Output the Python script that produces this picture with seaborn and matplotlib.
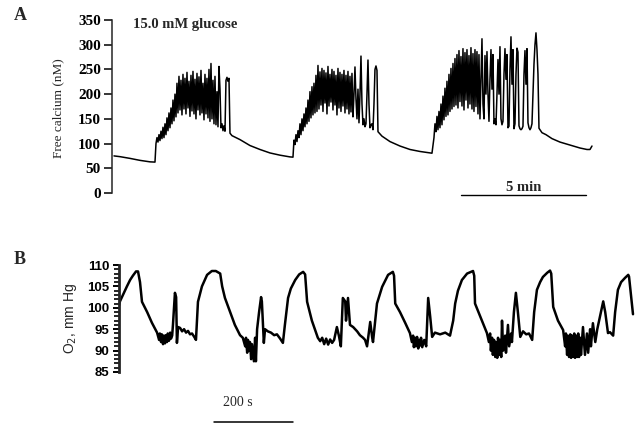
import numpy as np
import pandas as pd
import matplotlib
matplotlib.use("Agg")
import matplotlib.pyplot as plt
import seaborn as sns
from matplotlib.ticker import MultipleLocator

# ---- panel A: free calcium (nM) against time (min) ----
# slow parts as (time, value) points, bursts as samples every 0.04 min
sample_min = 0.04

base1_min = [0, 0.24, 0.64, 1.04, 1.44, 1.64]
base1_nM = [75, 73.5, 70, 66, 63, 62.5]
burst1_start = 1.68
burst1_nM = [100, 112, 103, 118, 106, 125, 110, 133, 112, 140,
             118, 152, 126, 162, 132, 172, 140, 188, 146, 200,
             154, 222, 162, 236, 168, 228, 158, 240, 170, 232,
             160, 244, 172, 226, 155, 238, 166, 246, 160, 230,
             150, 242, 168, 235, 158, 248, 162, 222, 148, 240,
             160, 232, 152, 250, 145, 262, 150, 228, 140, 236,
             138, 205, 134, 256, 210, 132, 140, 126, 136, 125,
             228, 234, 226, 232, 121]
decay1_min = [4.72, 4.88, 5.04, 5.44, 5.84, 6.24, 6.64, 7.04, 7.16]
decay1_nM = [116, 112, 108, 96, 88, 81, 76.5, 73, 72.5]

burst2_start = 7.20
burst2_nM = [107, 98, 118, 104, 126, 112, 140, 118, 150, 126,
             160, 134, 172, 140, 188, 145, 205, 152, 215, 158,
             222, 162, 238, 165, 258, 170, 245, 178, 252, 165,
             248, 182, 243, 160, 256, 176, 240, 184, 250, 168,
             246, 178, 238, 158, 252, 172, 244, 165, 240, 176,
             248, 162, 238, 170, 246, 160, 236, 164, 242, 154,
             200, 255, 190, 150, 210, 142, 200, 277, 180, 138,
             150, 134, 140, 200, 269, 180, 132, 138, 140, 128,
             180, 250, 257, 248, 124]
decay2_min = [10.72, 11.04, 11.44, 11.84, 12.24, 12.64, 12.72]
decay2_nM = [115, 104, 95, 88, 84, 81, 80.5]

burst3_start = 12.80
burst3_nM = [112, 140, 124, 155, 128, 165, 132, 180, 138, 196,
             148, 212, 155, 226, 158, 240, 165, 252, 170, 262,
             175, 272, 178, 280, 172, 288, 185, 276, 176, 292,
             168, 284, 188, 290, 172, 278, 180, 294, 170, 282,
             165, 290, 175, 286, 160, 280,
             150, 230, 312, 180, 150, 278, 200, 286, 200, 145,
             230, 290, 210, 280, 140, 150, 138, 200, 270, 200,
             296, 150, 138, 145, 240, 292, 230, 280, 132, 135,
             250, 316, 220, 290, 130, 140, 240, 293, 285, 136,
             130, 128, 130, 135, 240, 288, 220, 292, 142, 132,
             128, 132, 140, 200, 260, 300, 324, 290, 240, 131]
decay3_min = [17.12, 17.28, 17.52, 17.84, 18.24, 18.64, 18.92, 19.04, 19.12]
decay3_nM = [122, 118, 110, 103, 97, 91, 88, 88, 95]

calcium_ticks = [0, 50, 100, 150, 200, 250, 300, 350]

# ---- panel B: O2 (mm Hg) against time (s) ----
o2_sec = [0, 2.5, 10, 20, 28, 35, 43, 48, 53, 58,
          71, 83, 96, 101, 103, 106, 108, 111, 113, 116, 118, 121, 123, 126, 129, 131, 134,
          136, 141, 144, 146, 149, 154, 159, 164, 169, 174, 179, 184, 189, 194,
          199, 209, 222, 234, 244, 255, 260, 267, 280, 292, 305,
          312, 318, 320, 323, 325, 328, 330, 333, 335, 338, 340, 343, 345, 348,
          353, 358, 360, 365, 368, 375, 383, 391, 398, 406, 413,
          418, 426, 433, 444, 454, 464, 469, 474, 486, 501,
          507, 512, 517, 522, 527, 532, 537, 542,
          549, 554, 559, 564, 570, 572, 577, 582, 590, 600, 607, 615, 620, 625, 633, 638, 640,
          650, 663, 678, 690, 693, 696, 708, 721, 733,
          738, 741, 743, 746, 748, 751, 754, 756, 759, 761, 764, 769, 774,
          779, 784, 789, 796, 809, 822, 834, 842,
          847, 854, 864, 877, 892, 895, 897, 910, 927,
          932, 935, 937, 940, 942, 945, 948, 950, 953, 955, 958, 960, 963, 965, 968, 973, 975, 980, 983, 988, 990,
          995, 1000, 1005, 1011, 1018, 1026, 1033, 1041,
          1046, 1053, 1061, 1068, 1079, 1086, 1089, 1094, 1106, 1119,
          1124, 1126, 1129, 1131, 1134, 1137, 1139, 1142, 1144, 1147, 1149, 1152, 1154, 1157, 1159, 1162, 1164,
          1169, 1174, 1179, 1182, 1187, 1189, 1194, 1200, 1205, 1212, 1220, 1225, 1232, 1237, 1245,
          1250, 1257, 1265, 1275, 1283, 1285, 1295]
o2_mmHg = [100.5, 101.5, 103, 105, 106.5, 107.5, 108.5, 108.5, 106, 101.4,
           99, 96.5, 94.2, 92.5, 94, 92, 93.8, 91.5, 93.5, 91.7, 93.6, 92, 94, 92.3, 94.2, 92.8, 93.5,
           96, 103.5, 102.5, 91.8, 95.5, 95.3, 94.5, 95, 94.2, 94.6, 93.8, 94, 93.3, 92.5,
           101.4, 105, 107.7, 108.6, 108.6, 108, 105, 102.3, 99, 96, 93.6,
           93, 91, 93, 89.5, 92.5, 90, 92, 88, 91.5, 89, 87.5, 93, 87.5, 95,
           99, 102.5, 101.5, 91.8, 95, 94.5, 94.2, 93.6, 93.8, 92.8, 91.8,
           96, 102.3, 104.5, 106.5, 107.8, 108.4, 107.8, 101.4, 97, 93,
           92.2, 93, 91.5, 92.8, 91.4, 92.6, 91.8, 92.5,
           95.5, 93.5, 91, 102.3, 101.5, 97, 102.3, 96, 95.5, 94.5, 93.6, 93, 92.5, 91, 96.7, 93, 92,
           101, 104.9, 107.7, 108.4, 107.5, 101, 99, 96.5, 94.1,
           92, 93.5, 90.8, 93, 91, 93.2, 90.5, 92.5, 91.2, 93, 90.8, 92.5, 91,
           102.3, 98, 93.2, 94.2, 93.8, 94.2, 93.5, 97,
           101, 104, 106.5, 108, 108.6, 107.5, 101, 98, 94.1,
           92, 94, 90, 93, 89, 92.5, 88.5, 92, 88.3, 93, 89, 92.5, 88.5, 97, 90, 93.5, 89.5, 96, 91, 94, 92,
           99, 103.5, 99, 93.2, 94.5, 93.8, 94, 92.5,
           99, 104.2, 106, 107.2, 108.2, 108.7, 108, 100.2, 97, 94.8,
           91, 94, 89, 93.5, 88.5, 93.8, 88.3, 93.5, 88.5, 94, 88.3, 93.5, 88.5, 94, 88.5, 93, 89,
           95.5, 89, 94, 89.5, 95, 91, 96.4, 92, 95, 98, 101.5, 99, 94.1, 94.3, 93.5,
           99, 104.2, 106, 107, 107.7, 107.3, 98.5]


def burst_times(start, values):
    return list(np.round(start + sample_min * np.arange(len(values)), 2))


calcium_min = (base1_min + burst_times(burst1_start, burst1_nM) + decay1_min
               + burst_times(burst2_start, burst2_nM) + decay2_min
               + burst_times(burst3_start, burst3_nM) + decay3_min)
calcium_nM = (base1_nM + burst1_nM + decay1_nM + burst2_nM + decay2_nM
              + burst3_nM + decay3_nM)

df_a = pd.DataFrame({"min": calcium_min, "nM": calcium_nM})
df_b = pd.DataFrame({"sec": o2_sec, "mmHg": o2_mmHg})

sns.set_style("ticks")
plt.rcParams["font.family"] = ["Liberation Serif", "DejaVu Serif"]

fig = plt.figure(figsize=(6.41, 4.30), dpi=100)

# ---------------- A ----------------
axA = fig.add_axes([0.1747, 0.5512, 0.7613, 0.4023])
sns.lineplot(data=df_a, x="min", y="nM", ax=axA, color="black",
             linewidth=1.1, estimator=None, sort=False)
axA.set_xlim(-0.08, 19.44)
axA.set_ylim(0, 350)
axA.set_yticks(calcium_ticks, [str(v) for v in calcium_ticks],
               fontweight="bold", fontsize=11)
axA.set_xticks([])
axA.set_xlabel("")
axA.set_ylabel("Free calcium (nM)", fontsize=9.5)
axA.yaxis.set_label_coords(-0.097, 0.49)
for s in ["top", "right", "bottom"]:
    axA.spines[s].set_visible(False)
axA.spines["left"].set_linewidth(1.1)
axA.tick_params(axis="y", length=5.5, width=1.1, pad=2.5, colors="black")
axA.text(0.76, 340, "15.0 mM glucose", fontsize=10.5, fontweight="bold",
         ha="left", va="center")
# 5 min scale bar
axA.plot([13.88, 18.88], [-4, -4], color="black", linewidth=1.0, clip_on=False)
axA.text(16.38, 12, "5 min", fontsize=10.5, fontweight="bold", ha="center", va="center")

# ---------------- B ----------------
axB = fig.add_axes([0.1856, 0.1349, 0.8112, 0.2488])
sns.lineplot(data=df_b, x="sec", y="mmHg", ax=axB, color="black",
             linewidth=1.8, estimator=None, sort=False)
axB.set_xlim(0, 1310)
axB.set_ylim(85, 110)
o2_ticks = [85, 90, 95, 100, 105, 110]
axB.set_yticks(o2_ticks, [str(v) for v in o2_ticks], fontweight="bold",
               fontsize=9.5, fontfamily="Liberation Sans")
axB.yaxis.set_minor_locator(MultipleLocator(1))
axB.set_xticks([])
axB.set_xlabel("")
axB.set_ylabel("O$_2$, mm Hg", fontsize=10, fontfamily="Liberation Sans")
axB.yaxis.set_label_coords(-0.077, 0.5)
for s in ["top", "right", "bottom"]:
    axB.spines[s].set_visible(False)
axB.spines["left"].set_linewidth(2.0)
axB.tick_params(axis="y", which="major", length=4, width=1.4, pad=3, colors="black")
axB.tick_params(axis="y", which="minor", length=3.5, width=1.2, colors="black")
# 200 s scale bar
axB.plot([239, 439], [73.3, 73.3], color="black", linewidth=1.1, clip_on=False)
axB.text(300, 77.8, "200 s", fontsize=10, ha="center", va="center")

fig.text(14 / 641, 1 - 16 / 430, "A", fontsize=13, fontweight="bold", va="center")
fig.text(14 / 641, 1 - 259 / 430, "B", fontsize=13, fontweight="bold", va="center")

fig.savefig("out.png", dpi=100, facecolor="white")
